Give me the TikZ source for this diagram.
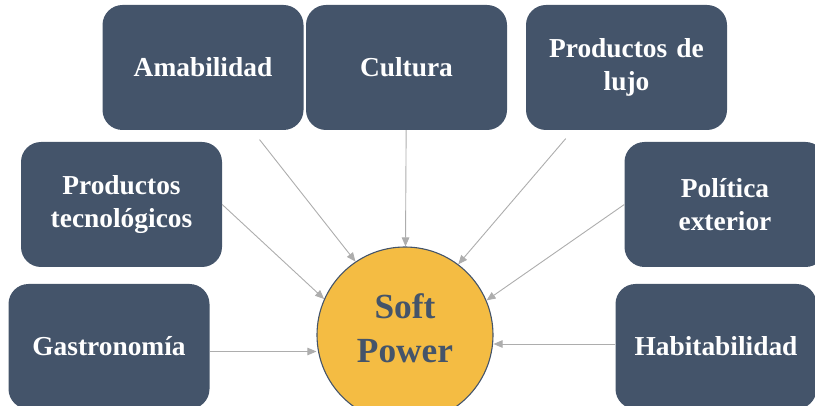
\documentclass[tikz,border=0pt]{standalone}
\usepackage{fontspec}
\setmainfont{Liberation Serif}
\usetikzlibrary{arrows.meta}

\definecolor{slate}{HTML}{44546A}
\definecolor{gold}{HTML}{F4BC43}
\definecolor{arrowgray}{HTML}{ADADAD}

\tikzset{
    factor/.style={fill=slate, rounded corners=20pt, minimum width=201pt, minimum height=125pt,
        text width=190pt, align=center, inner sep=0pt, text=white,
        font=\bfseries\fontsize{27.4}{33}\selectfont},
    core/.style={circle, draw=slate, line width=1.1pt, fill=gold, minimum size=176pt, inner sep=0pt,
        align=center, text=slate, text depth=14pt, font=\bfseries\fontsize{35.3}{44}\selectfont},
    link/.style={draw=arrowgray, line width=0.9pt, -{Triangle[length=9pt,width=7.5pt]}}
}

\begin{document}
\begin{tikzpicture}[x=1pt, y=-1pt]
    \useasboundingbox (0,0) rectangle (815,406);
    \clip (0,0) rectangle (815,406);

    % Factors
    \node[factor] (amab) at (203,67.5) {Amabilidad};
    \node[factor] (cult) at (406.5,67.5) {Cultura};
    \node[factor] (lujo) at (626.5,67.5) {Productos de\\lujo};
    \node[factor] (tecno) at (121.5,204.5) {Productos\\tecnológicos};
    \node[factor] (polit) at (725,204.5) {Política\\exterior};
    \node[factor] (gastro) at (109,346.5) {Gastronomía};
    \node[factor] (habit) at (716,346.5) {Habitabilidad};

    % Centre
    \node[core] (soft) at (405,335) {Soft\\Power};

    % Arrows into the centre
    \draw[link, shorten <=12pt] (amab) -- (soft.124);
    \draw[link] (cult) -- (soft);
    \draw[link, shorten <=11pt] (lujo) -- (soft.53);
    \draw[link] (tecno.east) -- (soft.156);
    \draw[link] (polit.west) -- (soft.23);
    \draw[link] ([yshift=-5pt]gastro.east) -- ([yshift=-5pt]gastro.east -| soft.west);
    \draw[link] ([yshift=2.5pt]habit.west) -- ([yshift=2.5pt]habit.west -| soft.east);
\end{tikzpicture}
\end{document}
